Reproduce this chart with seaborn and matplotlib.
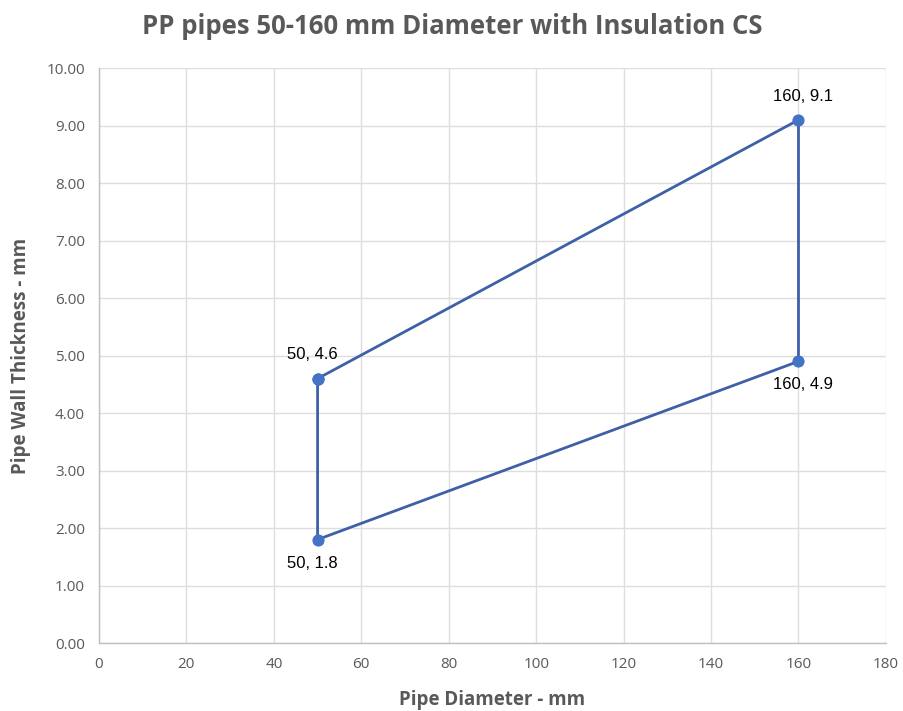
import matplotlib
matplotlib.use("Agg")
import matplotlib.pyplot as plt
import seaborn as sns
import pandas as pd

# Closed outline of the 50-160 mm range
diameter = [50, 160, 160, 50, 50]
thickness = [4.6, 9.1, 4.9, 1.8, 4.6]
label_text = ["50, 4.6", "160, 9.1", "160, 4.9", "50, 1.8"]
label_dy = [1, 1, -1, -1]  # above / below the point

x_ticks = [0, 20, 40, 60, 80, 100, 120, 140, 160, 180]
y_ticks = [0, 1, 2, 3, 4, 5, 6, 7, 8, 9, 10]

sns.set_theme(style="whitegrid")
plt.rcParams["font.family"] = ["Open Sans", "DejaVu Sans"]

df = pd.DataFrame({"d": diameter, "t": thickness})

fig = plt.figure(figsize=(9.04, 7.11), dpi=100)
ax = fig.add_axes([0.1095, 0.0956, 0.8705, 0.8085])

sns.lineplot(data=df, x="d", y="t", sort=False, estimator=None, ax=ax,
             color="#3E60A6", linewidth=2.0, marker="o", markersize=8,
             markerfacecolor="#4472C4", markeredgecolor="#4472C4")

for xv, yv, txt, dy in zip(diameter[:-1], thickness[:-1], label_text, label_dy):
    ax.annotate(txt, (xv, yv), xytext=(-4 if xv == 50 else 3, 17 * dy),
                textcoords="offset points", ha="center", va="center",
                fontsize=12, color="#000000", family="Liberation Sans")

ax.set_xlim(0, 180)
ax.set_ylim(0, 10)
ax.set_xticks(x_ticks)
ax.set_yticks(y_ticks)
ax.set_yticklabels([f"{v:.2f}" for v in y_ticks])
ax.tick_params(axis="both", labelsize=11, colors="#595959", length=0, pad=10)

ax.grid(True, color="#DEDEDE", linewidth=1.0)
for side in ["top", "right"]:
    ax.spines[side].set_visible(False)
for side in ["left", "bottom"]:
    ax.spines[side].set_color("#BFBFBF")
    ax.spines[side].set_linewidth(1.0)

ax.set_xlabel("Pipe Diameter - mm", fontsize=13.5, fontweight="bold",
              color="#595959", labelpad=13)
ax.set_ylabel("Pipe Wall Thickness - mm", fontsize=13.5, fontweight="bold",
              color="#595959", labelpad=11)

fig.suptitle("PP pipes 50-160 mm Diameter with Insulation CS", x=0.5, y=0.982,
             fontsize=18.5, fontweight="bold", color="#595959")

fig.savefig("out.png", dpi=100, facecolor="white")
